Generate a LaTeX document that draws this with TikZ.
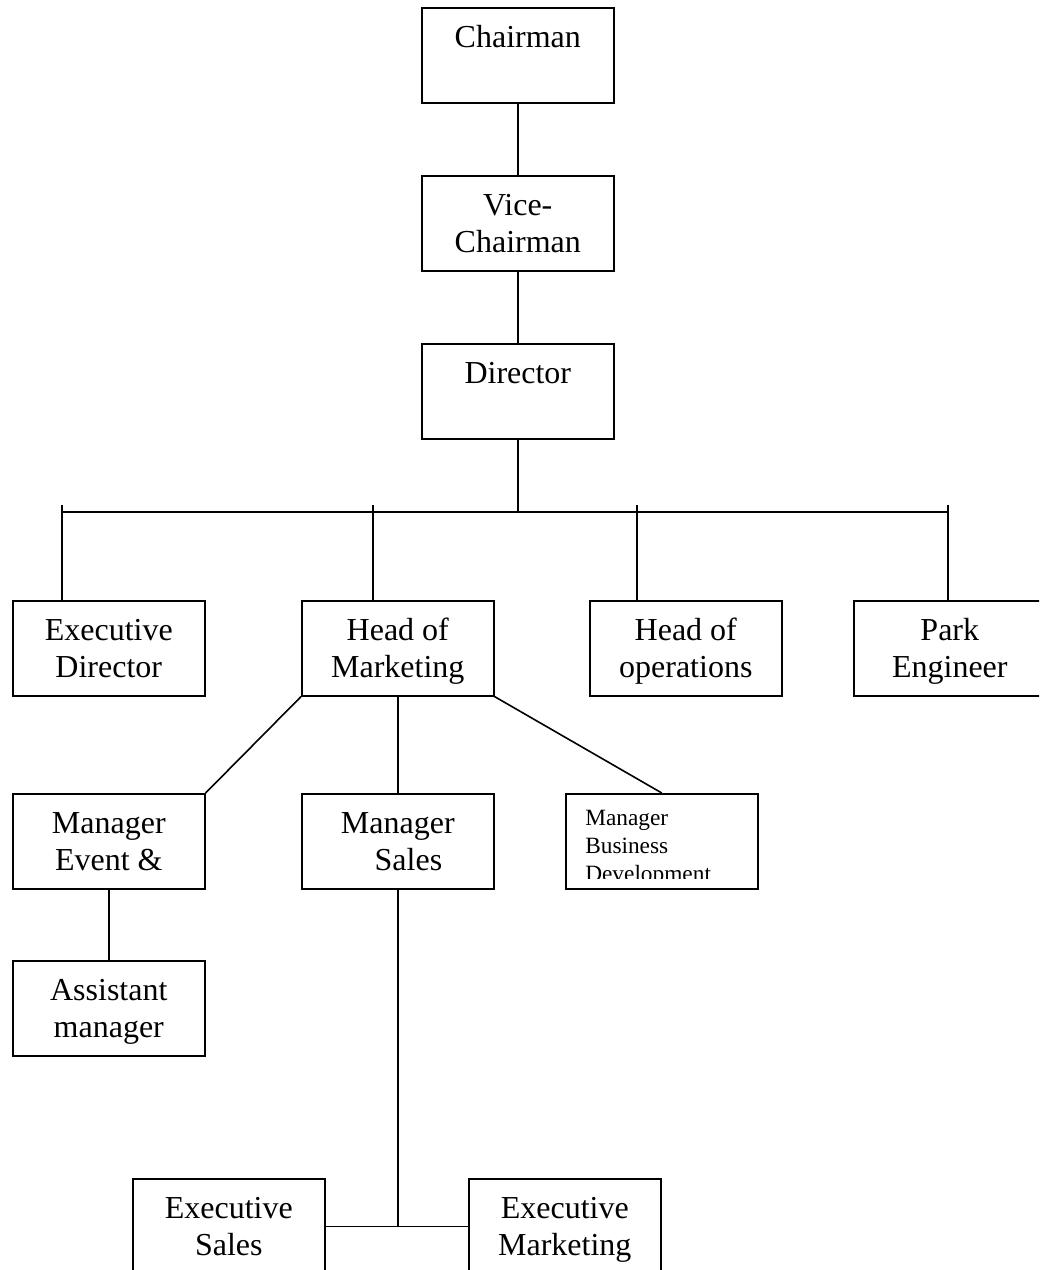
\documentclass[tikz,border=0pt]{standalone}
\usepackage{fontspec}
\setmainfont{Liberation Serif}
\newcommand{\orgfont}{\fontsize{24pt}{27.75pt}\selectfont}
\newcommand{\celltext}[1]{\parbox[t][71.25pt][t]{144pt}{\centering\rule{0pt}{30pt}#1}}
\tikzset{
  orgbox/.style={draw,line width=1.2pt,inner sep=0pt,anchor=north west,font=\orgfont},
  orgline/.style={line width=1.2pt}
}
\begin{document}
\begin{tikzpicture}[x=0.75pt,y=-0.75pt]
  \useasboundingbox (0,0) rectangle (1039,1270);
  \clip (0,0) rectangle (1039,1270);
  % top of the chart
  \node[orgbox] (chair) at (421,7) {\celltext{Chairman}};
  \node[orgbox] (vice) at (421,175) {\celltext{Vice-\\Chairman}};
  \node[orgbox] (dir) at (421,343) {\celltext{Director}};
  % second row
  \node[orgbox] (exdir) at (12,600) {\celltext{Executive\\Director}};
  \node[orgbox] (hmkt) at (301,600) {\celltext{Head of\\Marketing}};
  \node[orgbox] (hops) at (589,600) {\celltext{Head of\\operations}};
  \node[orgbox] (park) at (853,600) {\celltext{Park\\Engineer}};
  % third row
  \node[orgbox] (mevent) at (12,793) {\celltext{Manager\\Event \&}};
  \node[orgbox] (msales) at (301,793) {\celltext{Manager\\\hspace*{16pt}Sales}};
  \node[orgbox,minimum width=144pt,minimum height=71.25pt] (mbd) at (565,793) {};
  \begin{scope}
    \clip (mbd.north west) rectangle ([yshift=8.25pt]mbd.south east);
    \node[anchor=north west,inner sep=0pt] (mbdtext) at ([xshift=15pt]mbd.north west)
      {\parbox[t]{128pt}{\fontsize{17.5pt}{21pt}\selectfont\raggedright\rule{0pt}{24pt}Manager\\Business\\Development}};
  \end{scope}
  \node[orgbox] (asst) at (12,960) {\celltext{Assistant\\manager}};
  \node[orgbox] (exsales) at (132,1178) {\celltext{Executive\\Sales}};
  \node[orgbox] (exmkt) at (468,1178) {\celltext{Executive\\Marketing}};
  % bar under the director
  \coordinate (bl) at (62,512);
  \coordinate (br) at (948,512);
  \coordinate (t1) at (62,505);
  \coordinate (t2) at (373,505);
  \coordinate (t3) at (637,505);
  \coordinate (t4) at (948,505);
  \draw[orgline] (chair.south) -- (vice.north);
  \draw[orgline] (vice.south) -- (dir.north);
  \draw[orgline] (dir.south) -- (dir.south |- bl);
  \draw[orgline] (bl) -- (br);
  \draw[orgline] (t1) -- (t1 |- exdir.north);
  \draw[orgline] (t2) -- (t2 |- hmkt.north);
  \draw[orgline] (t3) -- (t3 |- hops.north);
  \draw[orgline] (t4) -- (t4 |- park.north);
  \draw[orgline] (hmkt.south west) -- (mevent.north east);
  \draw[orgline] (hmkt.south) -- (msales.north);
  \draw[orgline] (hmkt.south east) -- (mbd.north);
  \draw[orgline] (mevent.south) -- (asst.north);
  \draw[orgline] (msales.south) -- (msales.south |- exsales.east);
  \draw[orgline] (exsales.east) -- (exmkt.west);
\end{tikzpicture}
\end{document}
